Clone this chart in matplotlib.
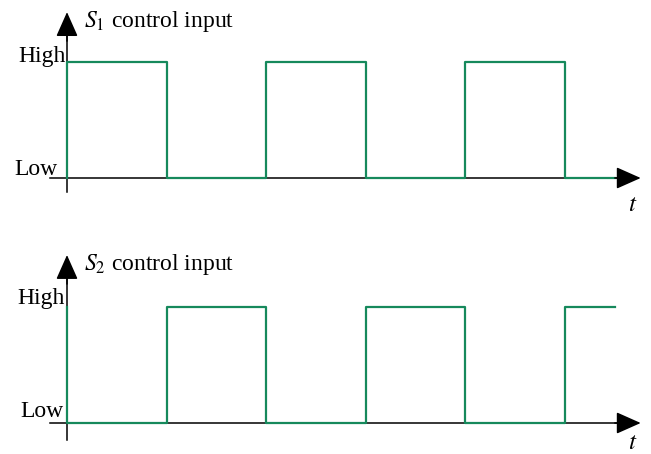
import numpy as np
import matplotlib.pyplot as plt

plt.rcParams['font.family'] = ['Liberation Serif', 'DejaVu Serif']
plt.rcParams['mathtext.fontset'] = 'stix'

# switching instants (half periods) and logic levels
t_edges = [0, 0, 1, 2, 3, 4, 5, 5.5]
s1_levels = [0, 1, 0, 1, 0, 1, 0, 0]
s2_levels = [1, 0, 1, 0, 1, 0, 1, 1]
titles = ["$S_1$ control input", "$S_2$ control input"]
level_labels = ["Low", "High"]

GREEN = '#16895c'

fig = plt.figure(figsize=(6.51, 4.54), dpi=100)

# axes spanning upper and lower halves of the figure
ax1 = fig.add_axes([0, 0.5, 1, 0.5])
ax2 = fig.add_axes([0, 0.0, 1, 0.5])

px = 99.6  # pixels per half period
xlim = (-67 / px, (651 - 67) / px)
ARROW = dict(arrowstyle='-|>,head_length=0.9,head_width=0.4',
             mutation_scale=17, color='black', lw=1.1, shrinkA=0, shrinkB=0)


def draw_panel(ax, levels, title, ylim, high_lab, low_lab, ybot, ytop, t_y):
    ax.set_xlim(*xlim)
    ax.set_ylim(*ylim)
    ax.axis('off')
    # time axis
    ax.plot([-0.17, 5.6], [0, 0], color='black', lw=1.1, zorder=1)
    ax.annotate('', xy=(5.76, 0), xytext=(5.5, 0), arrowprops=ARROW)
    # signal axis
    ax.plot([0, 0], [ybot, ytop - 0.1], color='black', lw=1.1, zorder=1)
    ax.annotate('', xy=(0, ytop), xytext=(0, ytop - 0.25), arrowprops=ARROW)
    ax.step(t_edges, levels, where='post', color=GREEN, lw=1.6, zorder=2)
    ax.text(0.17, ytop - 0.08, title, fontsize=17, va='center', ha='left')
    ax.text(high_lab[0], high_lab[1], level_labels[1], fontsize=17,
            ha='right', va='baseline')
    ax.text(low_lab[0], low_lab[1], level_labels[0], fontsize=17,
            ha='right', va='baseline')
    ax.text(5.68, t_y, "$t$", fontsize=18, ha='center', va='center')


draw_panel(ax1, s1_levels, titles[0], ((178 - 227) / 116, 178 / 116),
           (-0.01, 1.0), (-0.1, 0.026), -0.12, 1.43, -0.23)
draw_panel(ax2, s2_levels, titles[1], ((423 - 454) / 116, (423 - 227) / 116),
           (-0.02, 1.03), (-0.04, 0.05), -0.147, 1.448, -0.17)

fig.savefig('out.png', dpi=100)
